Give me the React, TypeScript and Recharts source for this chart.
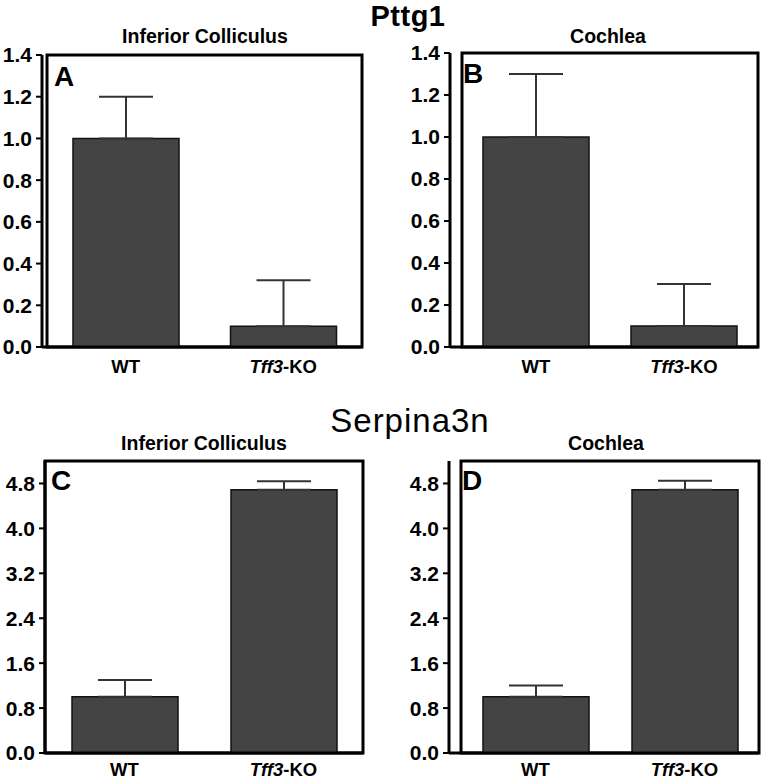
import { BarChart, Bar, XAxis, YAxis, ErrorBar, ReferenceArea } from 'recharts';

const groups = ['WT', 'Tff3-KO'];

const pttg1Colliculus = [1.0, 0.1];
const pttg1ColliculusErr = [0.2, 0.22];
const pttg1Cochlea = [1.0, 0.1];
const pttg1CochleaErr = [0.3, 0.2];

const serpinaColliculus = [1.0, 4.69];
const serpinaColliculusErr = [0.3, 0.15];
const serpinaCochlea = [1.0, 4.69];
const serpinaCochleaErr = [0.2, 0.16];

const pttg1Ticks = [0, 0.2, 0.4, 0.6, 0.8, 1.0, 1.2, 1.4];
const serpinaTicks = [0, 0.8, 1.6, 2.4, 3.2, 4.0, 4.8];

const font = '"Liberation Sans", Arial, sans-serif';

const makeRows = (values: number[], errs: number[]) =>
    groups.map((g, i) => ({ g, v: values[i], err: [0, errs[i]] }));

const GroupTick = (props: any) => {
    const { x, y, payload, offsetY } = props;
    const label = payload.value;
    return (
        <text
            x={x}
            y={y + offsetY}
            textAnchor="middle"
            fontSize={18.5}
            fontWeight="bold"
            fill="#000"
            fontFamily={font}
        >
            {label === 'Tff3-KO' ? (
                <>
                    <tspan fontStyle="italic">Tff3</tspan>
                    <tspan>-KO</tspan>
                </>
            ) : (
                label
            )}
        </text>
    );
};

type PanelProps = {
    left: number;
    top: number;
    yWidth: number;
    margin: { top: number; right: number; bottom: number; left: number };
    xHeight: number;
    labelY: number;
    values: number[];
    errs: number[];
    ticks: number[];
    domainMax: number;
    padLeft: number;
};

const Panel = ({ left, top, yWidth, margin, xHeight, labelY, values, errs, ticks, domainMax, padLeft }: PanelProps) => {
    const data = makeRows(values, errs);
    const fmt = (v: number) => v.toFixed(1);
    return (
        <div style={{ position: 'absolute', left, top }}>
            <BarChart width={387} height={390} data={data} margin={margin} barSize={106}>
                <XAxis
                    dataKey="g"
                    height={xHeight}
                    padding={{ left: padLeft, right: 0 }}
                    axisLine={{ stroke: '#000', strokeWidth: 3 }}
                    tickLine={false}
                    tickSize={0}
                    tickMargin={0}
                    tick={<GroupTick offsetY={labelY} />}
                    interval={0}
                />
                <YAxis
                    width={yWidth}
                    domain={[0, domainMax]}
                    ticks={ticks}
                    tickFormatter={fmt}
                    interval={0}
                    axisLine={{ stroke: '#000', strokeWidth: 3 }}
                    tickLine={{ stroke: '#000', strokeWidth: 2 }}
                    tickSize={6}
                    tickMargin={4}
                    tick={{ fontSize: 21, fontWeight: 'bold', fill: '#000', fontFamily: font }}
                />
                <Bar dataKey="v" fill="#444" stroke="#111" strokeWidth={1.5} isAnimationActive={false}>
                    <ErrorBar
                        dataKey="err"
                        direction="y"
                        width={27}
                        stroke="#333"
                        strokeWidth={2}
                        isAnimationActive={false}
                    />
                </Bar>
                <ReferenceArea
                    y1={0}
                    y2={domainMax}
                    fill="none"
                    fillOpacity={0}
                    stroke="#000"
                    strokeWidth={3}
                    ifOverflow="visible"
                />
            </BarChart>
        </div>
    );
};

export default function App() {
    return (
        <div
            style={{
                position: 'absolute',
                left: 0,
                top: 0,
                width: 774,
                height: 780,
                background: '#fff',
                overflow: 'hidden',
            }}
        >
            <Panel
                left={0}
                top={0}
                yWidth={42}
                margin={{ top: 55, right: 25, bottom: 13, left: 0 }}
                xHeight={30}
                labelY={26}
                values={pttg1Colliculus}
                errs={pttg1ColliculusErr}
                ticks={pttg1Ticks}
                domainMax={1.4}
                padLeft={5}
            />
            <Panel
                left={387}
                top={0}
                yWidth={63}
                margin={{ top: 53, right: 16, bottom: 13, left: 0 }}
                xHeight={30}
                labelY={26}
                values={pttg1Cochlea}
                errs={pttg1CochleaErr}
                ticks={pttg1Ticks}
                domainMax={1.4}
                padLeft={12}
            />
            <Panel
                left={0}
                top={390}
                yWidth={45}
                margin={{ top: 71, right: 24, bottom: 0, left: 0 }}
                xHeight={27}
                labelY={23}
                values={serpinaColliculus}
                errs={serpinaColliculusErr}
                ticks={serpinaTicks}
                domainMax={5.2}
                padLeft={0}
            />
            <Panel
                left={387}
                top={390}
                yWidth={62}
                margin={{ top: 71, right: 15, bottom: 0, left: 0 }}
                xHeight={27}
                labelY={23}
                values={serpinaCochlea}
                errs={serpinaCochleaErr}
                ticks={serpinaTicks}
                domainMax={5.2}
                padLeft={12}
            />
            <svg
                width={774}
                height={780}
                style={{ position: 'absolute', left: 0, top: 0, pointerEvents: 'none' }}
                fontFamily={font}
            >
                <text x={408} y={26} textAnchor="middle" fontSize={29} fontWeight="bold" letterSpacing={0.5}>
                    Pttg1
                </text>
                <text x={410} y={432} textAnchor="middle" fontSize={33} letterSpacing={1}>
                    Serpina3n
                </text>
                <text x={205} y={43} textAnchor="middle" fontSize={19.5} fontWeight="bold">
                    Inferior Colliculus
                </text>
                <text x={608} y={43} textAnchor="middle" fontSize={19.5} fontWeight="bold">
                    Cochlea
                </text>
                <text x={204} y={450} textAnchor="middle" fontSize={19.5} fontWeight="bold">
                    Inferior Colliculus
                </text>
                <text x={606} y={450} textAnchor="middle" fontSize={19.5} fontWeight="bold">
                    Cochlea
                </text>
                <text x={54} y={86} fontSize={28} fontWeight="bold">A</text>
                <text x={463} y={83} fontSize={28} fontWeight="bold">B</text>
                <text x={51} y={490} fontSize={28} fontWeight="bold">C</text>
                <text x={462} y={490} fontSize={28} fontWeight="bold">D</text>
            </svg>
        </div>
    );
}
